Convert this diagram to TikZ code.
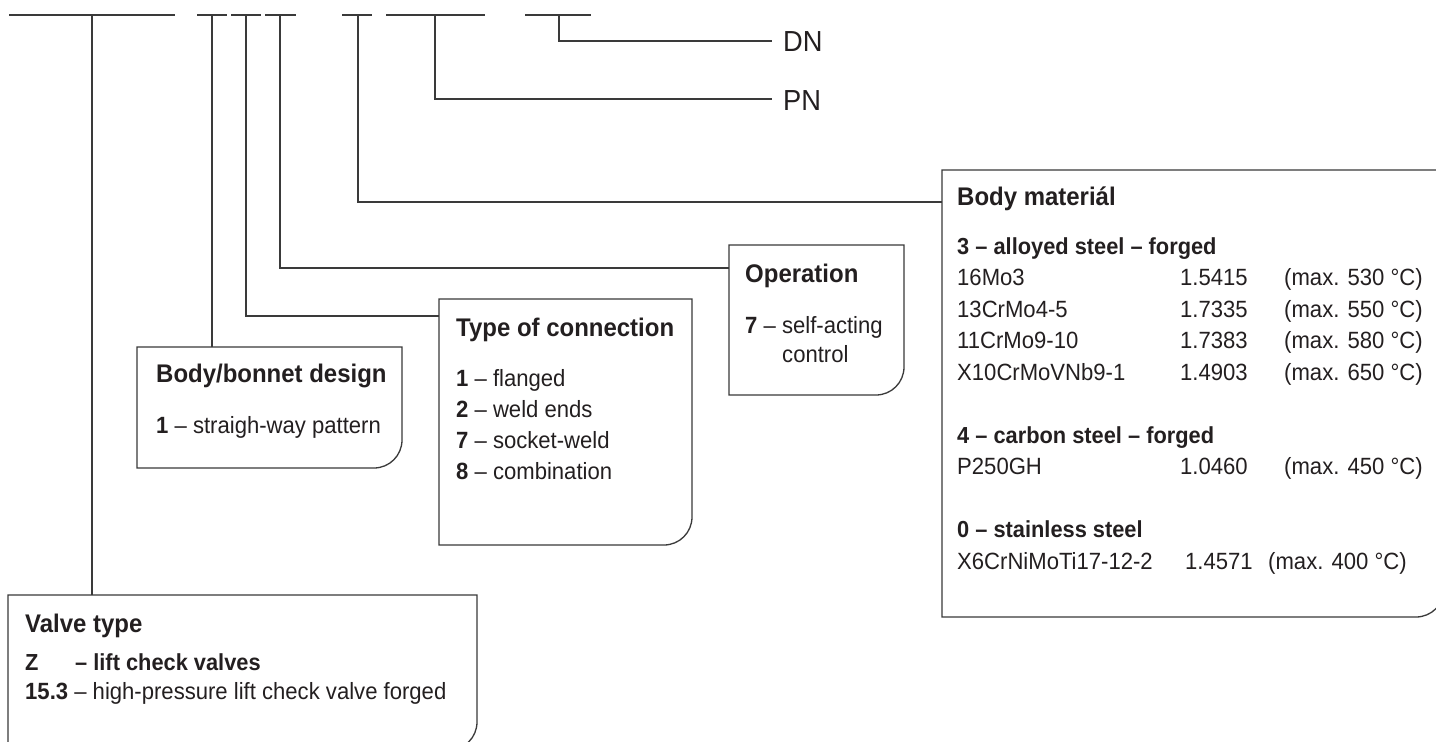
\documentclass[tikz,border=0pt]{standalone}
\usepackage{fontspec}
\setmainfont{Liberation Sans}[FakeStretch=0.94]
\definecolor{ln}{HTML}{3A3A3A}
\definecolor{tx}{HTML}{231F20}
\newcommand\hdfont{\fontsize{25.5}{30}\selectfont\bfseries}
\newcommand\shfont{\fontsize{23.2}{28}\selectfont\bfseries}
\newcommand\rgfont{\fontsize{23.5}{28}\selectfont}
\newcommand\pnfont{\fontsize{29}{34}\selectfont}
\begin{document}
\begin{tikzpicture}[x=1pt,y=-1pt,
  wire/.style={draw=ln,line width=1.3pt},
  area/.style={draw=none,inner sep=0,outer sep=0,anchor=north west},
  hd/.style={inner sep=0,anchor=base west,text=tx,font=\hdfont},
  sh/.style={inner sep=0,anchor=base west,text=tx,font=\shfont},
  rg/.style={inner sep=0,anchor=base west,text=tx,font=\rgfont},
  lbl/.style={inner sep=0,anchor=west,text=tx,font=\pnfont}]
\clip (0,0) rectangle (1436,742);
\fill[white] (0,0) rectangle (1436,742);
% box areas
\node[area,minimum width=469pt,minimum height=155pt] (vbox) at (8,595) {};
\node[area,minimum width=265pt,minimum height=121pt] (bbox) at (137,347) {};
\node[area,minimum width=253pt,minimum height=246pt] (cbox) at (439,299) {};
\node[area,minimum width=175pt,minimum height=150pt] (obox) at (729,245) {};
\node[area,minimum width=502pt,minimum height=447pt] (mbox) at (942,170) {};
\foreach \b in {vbox,bbox,cbox,obox,mbox}{
  \draw[wire] (\b.north west) -- (\b.north east) [rounded corners=28pt] -- (\b.south east) [sharp corners] -- (\b.south west) -- cycle;
}
% code line segments
\foreach \a/\b in {9/175,197/227,231/261,265/296,342/372,386/485,525/591}{
  \draw[wire] (\a,15) -- (\b,15);
}
% taps
\coordinate (tv) at (92,15);
\coordinate (tb) at (212,15);
\coordinate (tc) at (246,15);
\coordinate (to) at (280,15);
\coordinate (tm) at (358,15);
\coordinate (tp) at (435,15);
\coordinate (td) at (559,15);
% labels PN DN
\node[lbl] (dn) at (783,42) {DN};
\node[lbl] (pn) at (783,101) {PN};
\coordinate (dnend) at (772,41);
\coordinate (pnend) at (772,99);
% connectors
\draw[wire] (tv) -- (tv |- vbox.north);
\draw[wire] (tb) -- (tb |- bbox.north);
\draw[wire] (tc) |- (cbox.west |- 0,316);
\draw[wire] (to) |- (obox.west |- 0,268);
\draw[wire] (tm) |- (mbox.west |- 0,202);
\draw[wire] (tp) |- (pnend);
\draw[wire] (td) |- (dnend);
% valve type
\node[hd] (v1) at (25,632) {Valve type};
\node[sh] (v2) at (25,670) {Z};
\node[sh] (v3) at (75,670) {– lift check valves};
\node[rg] (v4) at (25,699) {\textbf{15.3} – high-pressure lift check valve forged};
% body/bonnet
\node[hd] (b1) at (156,382) {Body/bonnet design};
\node[rg] (b2) at (156,433) {\textbf{1} – straigh-way pattern};
% type of connection
\node[hd] (c1) at (456,336) {Type of connection};
\node[rg] (c2) at (456,386) {\textbf{1} – flanged};
\node[rg] (c3) at (456,417) {\textbf{2} – weld ends};
\node[rg] (c4) at (456,448) {\textbf{7} – socket-weld};
\node[rg] (c5) at (456,479) {\textbf{8} – combination};
% operation
\node[hd] (o1) at (745,282) {Operation};
\node[rg] (o2) at (745,333) {\textbf{7} – self-acting};
\node[rg] (o3) at (782,362) {control};
% body material
\node[hd] (m0) at (957,205) {Body materiál};
\node[sh] (m1) at (957,254) {3 – alloyed steel – forged};
\node[rg] (m2a) at (957,285.5) {16Mo3};
\node[rg] (m3a) at (957,317) {13CrMo4-5};
\node[rg] (m4a) at (957,348.5) {11CrMo9-10};
\node[rg] (m5a) at (957,380) {X10CrMoVNb9-1};
\node[rg] (m2b) at (1180,285.5) {1.5415};
\node[rg] (m3b) at (1180,317) {1.7335};
\node[rg] (m4b) at (1180,348.5) {1.7383};
\node[rg] (m5b) at (1180,380) {1.4903};
\node[rg] (m2c) at (1284,285.5) {(max. 530 °C)};
\node[rg] (m3c) at (1284,317) {(max. 550 °C)};
\node[rg] (m4c) at (1284,348.5) {(max. 580 °C)};
\node[rg] (m5c) at (1284,380) {(max. 650 °C)};
\node[sh] (m6) at (957,443) {4 – carbon steel – forged};
\node[rg] (m7a) at (957,474.5) {P250GH};
\node[rg] (m7b) at (1180,474.5) {1.0460};
\node[rg] (m7c) at (1284,474.5) {(max. 450 °C)};
\node[sh] (m8) at (957,537.5) {0 – stainless steel};
\node[rg] (m9a) at (957,569) {X6CrNiMoTi17-12-2};
\node[rg] (m9b) at (1185,569) {1.4571};
\node[rg] (m9c) at (1268,569) {(max. 400 °C)};
\end{tikzpicture}
\end{document}
